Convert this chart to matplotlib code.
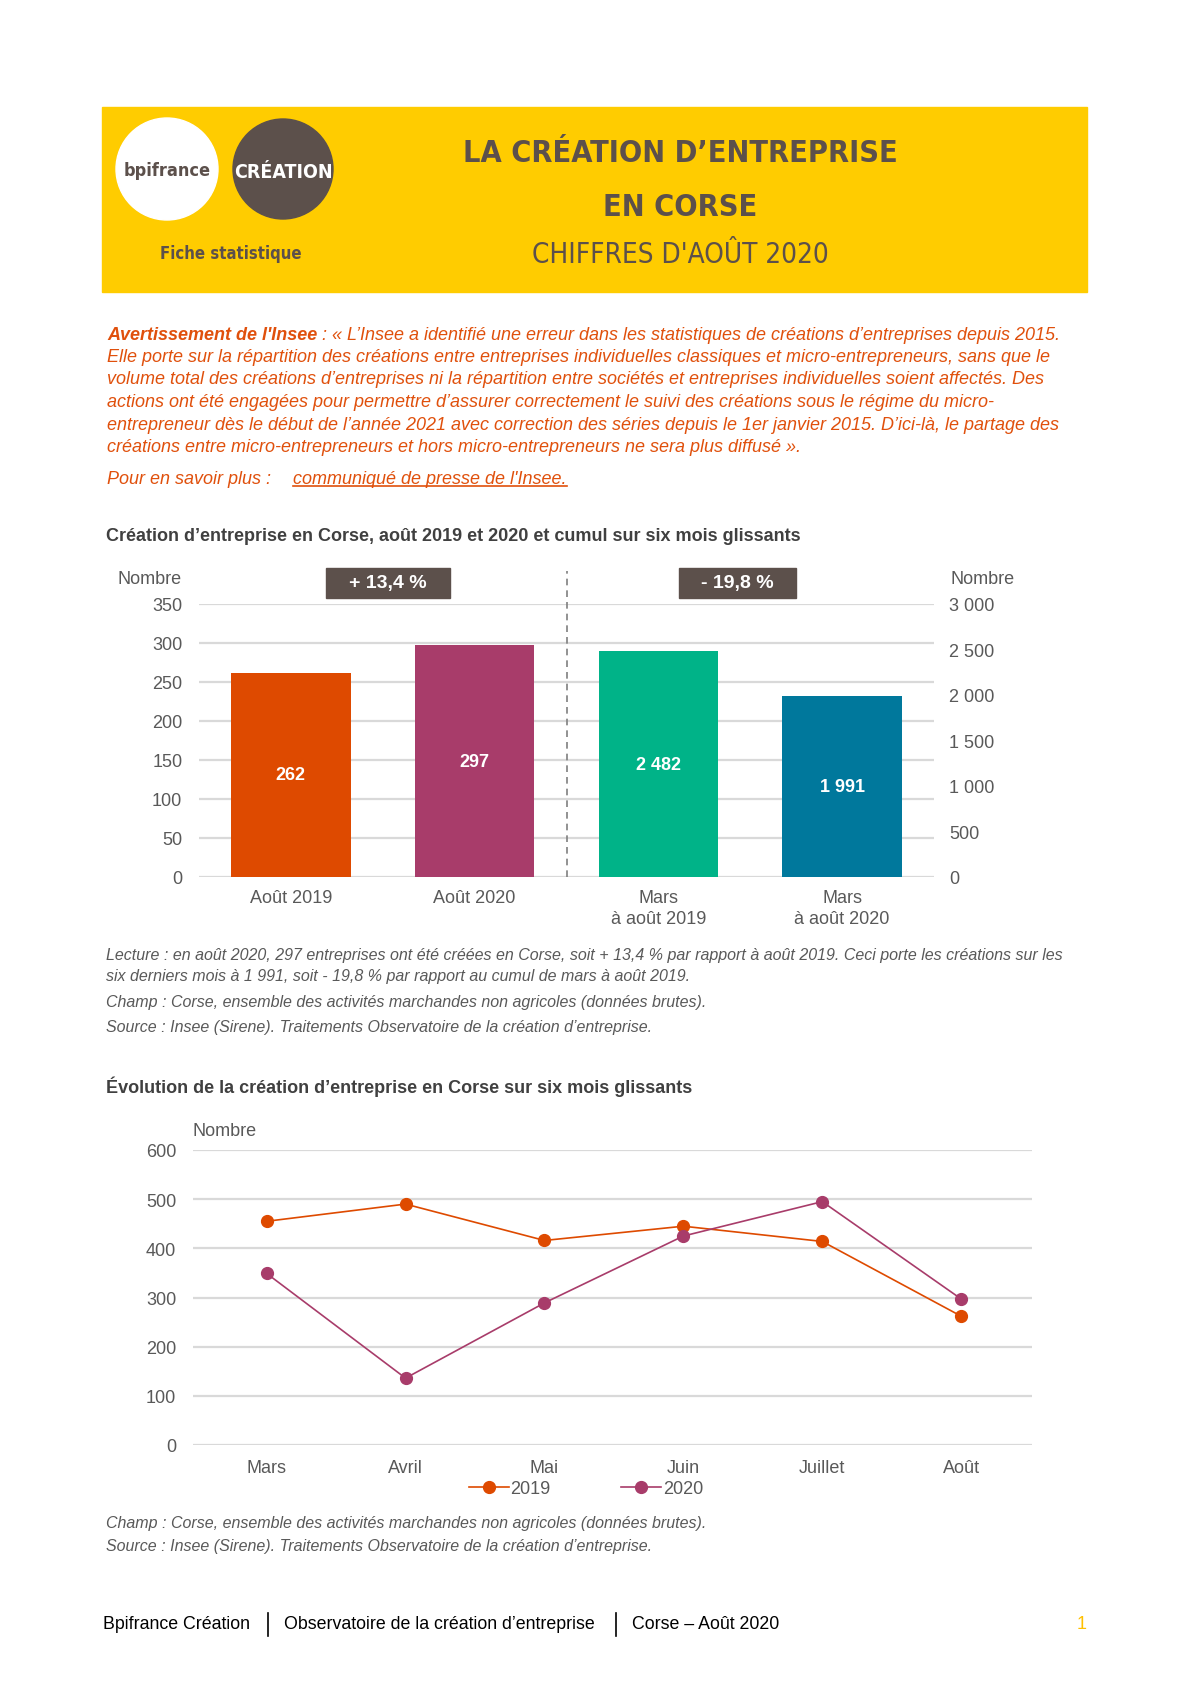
import numpy as np
import matplotlib
matplotlib.use('Agg')
from matplotlib import pyplot as plt
from matplotlib import font_manager
from matplotlib.patches import Rectangle, Circle
from matplotlib.transforms import blended_transform_factory

W, H = 1190, 1683

# données du graphique en barres
bar_labels = ['Août 2019', 'Août 2020', 'Mars\nà août 2019', 'Mars\nà août 2020']
bar_month = [262, 297]
bar_cumul = [2482, 1991]
bar_colors = ['#DE4A00', '#A83C6A', '#00B388', '#00789C']
evol_labels = ['+ 13,4 %', '- 19,8 %']
left_ticks = np.arange(0, 351, 50)
right_ticks = np.arange(0, 3001, 500)

# données de l'évolution sur six mois glissants
months = ['Mars', 'Avril', 'Mai', 'Juin', 'Juillet', 'Août']
crea_2019 = [455, 490, 416, 445, 414, 262]
crea_2020 = [349, 136, 289, 425, 495, 297]
line_ticks = np.arange(0, 601, 100)

warning_lines = [
    "Elle porte sur la répartition des créations entre entreprises individuelles classiques et micro-entrepreneurs, sans que le",
    "volume total des créations d’entreprises ni la répartition entre sociétés et entreprises individuelles soient affectés. Des",
    "actions ont été engagées pour permettre d’assurer correctement le suivi des créations sous le régime du micro-",
    "entrepreneur dès le début de l’année 2021 avec correction des séries depuis le 1er janvier 2015. D’ici-là, le partage des",
    "créations entre micro-entrepreneurs et hors micro-entrepreneurs ne sera plus diffusé ».",
]
bar_notes = [
    "Lecture : en août 2020, 297 entreprises ont été créées en Corse, soit + 13,4 % par rapport à août 2019. Ceci porte les créations sur les",
    "six derniers mois à 1 991, soit - 19,8 % par rapport au cumul de mars à août 2019.",
    "Champ : Corse, ensemble des activités marchandes non agricoles (données brutes).",
    "Source : Insee (Sirene). Traitements Observatoire de la création d’entreprise.",
]
line_notes = bar_notes[2:]

ORANGE = '#E0500C'
BROWN = '#5C504B'
GREY = '#595959'
GRID = '#D9D9D9'

plt.rcParams['font.family'] = ['Liberation Sans', 'DejaVu Sans']

# police étroite pour l'en-tête si disponible
cond = [f for f in font_manager.fontManager.ttflist
        if f.name == 'DejaVu Sans' and f.stretch in ('condensed', 'semi-condensed', 600, 700)]
HAS_COND = len(cond) > 0
NARROW = dict(family='DejaVu Sans', stretch='condensed') if HAS_COND else dict(family='Liberation Sans')
k = 1.0 if HAS_COND else 0.86


def fmt(v):
    return f"{v:,}".replace(',', ' ')


def frac(x0, y0, x1, y1):
    return [x0 / W, 1 - y1 / H, (x1 - x0) / W, (y1 - y0) / H]


fig = plt.figure(figsize=(W / 100, H / 100), dpi=100)
bg = fig.add_axes([0, 0, 1, 1], zorder=0)
bg.set_xlim(0, W)
bg.set_ylim(H, 0)
bg.axis('off')

# en-tête
bg.add_patch(Rectangle((102, 108), 985, 185, color='#FFCC00'))
bg.add_patch(Circle((167, 170), 51, color='white'))
bg.add_patch(Circle((283, 170), 50, color=BROWN))
bg.text(167, 171, 'bpifrance', ha='center', va='center', fontsize=13 * k,
        weight='bold', color=BROWN, **NARROW)
bg.text(283, 173, 'CRÉATION', ha='center', va='center', fontsize=14 * k,
        weight='bold', color='white', **NARROW)
bg.text(231, 254, 'Fiche statistique', ha='center', va='center', fontsize=12 * k,
        weight='bold', color=BROWN, **NARROW)
bg.text(680, 153, 'LA CRÉATION D’ENTREPRISE', ha='center', va='center',
        fontsize=22 * k, weight='bold', color=BROWN, **NARROW)
bg.text(680, 207, 'EN CORSE', ha='center', va='center',
        fontsize=22 * k, weight='bold', color=BROWN, **NARROW)
bg.text(680, 255, "CHIFFRES D'AOÛT 2020", ha='center', va='center',
        fontsize=20 * k, color=BROWN, **NARROW)

# avertissement
t1 = bg.text(107, 335, "Avertissement de l'Insee", ha='left', va='center',
             fontsize=13, style='italic', weight='bold', color=ORANGE)
bg.annotate(" : « L’Insee a identifié une erreur dans les statistiques de créations d’entreprises depuis 2015.",
            xy=(1, 0), xycoords=t1, ha='left', va='bottom',
            fontsize=13, style='italic', color=ORANGE)
for i, line in enumerate(warning_lines):
    bg.text(107, 357.5 + i * 22.5, line, ha='left', va='center', fontsize=13,
            style='italic', color=ORANGE)
bg.text(107, 479, 'Pour en savoir plus :', ha='left', va='center', fontsize=13,
        style='italic', color=ORANGE)
link = bg.text(293, 479, "communiqué de presse de l'Insee.", ha='left', va='center',
               fontsize=13, style='italic', color=ORANGE)

# graphique 1
bg.text(106, 537, 'Création d’entreprise en Corse, août 2019 et 2020 et cumul sur six mois glissants',
        ha='left', va='center', fontsize=13, weight='bold', color='#404040')
bg.text(150, 580, 'Nombre', ha='center', va='center', fontsize=13, color=GREY)
bg.text(983, 580, 'Nombre', ha='center', va='center', fontsize=13, color=GREY)

ax = fig.add_axes(frac(199, 605, 934, 878), zorder=1)
x = np.arange(len(bar_labels))
ax.bar(x[:2], bar_month, width=0.65, color=bar_colors[:2], zorder=3)
ax.set_xlim(-0.5, 3.5)
ax.set_ylim(0, 350)
ax.set_yticks(left_ticks)
ax.yaxis.grid(True, color=GRID, lw=1.6)
ax.set_axisbelow(True)
ax.set_xticks(x)
ax.set_xticklabels(bar_labels, linespacing=1.25)
ax.tick_params(axis='y', length=0, pad=12, labelsize=13, labelcolor=GREY)
ax.tick_params(axis='x', length=0, pad=9, labelsize=13, labelcolor=GREY)
for s in ax.spines.values():
    s.set_visible(False)
for xi, v in zip(x[:2], bar_month):
    ax.text(xi, v / 2, fmt(v), ha='center', va='center', color='white',
            fontsize=13, weight='bold', zorder=4)
ax.axvline(1.5, ymin=0, ymax=1.12, ls=(0, (4, 3)), color='#7F7F7F', lw=1.2, clip_on=False)

trans = blended_transform_factory(ax.transData, ax.transAxes)
for cx, bw, lab in zip([0.53, 2.43], [0.674, 0.64], evol_labels):
    ax.add_patch(Rectangle((cx - bw / 2, 1.022), bw, 0.11, transform=trans,
                           color=BROWN, clip_on=False))
    ax.text(cx, 1.077, lab, transform=trans, ha='center', va='center',
            color='white', fontsize=14, weight='bold')

ax2 = ax.twinx()
ax2.bar(x[2:], bar_cumul, width=0.65, color=bar_colors[2:], zorder=3)
ax2.set_ylim(0, 3000)
ax2.set_yticks(right_ticks)
ax2.set_yticklabels([fmt(v) for v in right_ticks])
ax2.tick_params(axis='y', length=0, pad=11, labelsize=13, labelcolor=GREY)
for s in ax2.spines.values():
    s.set_visible(False)
for xi, v in zip(x[2:], bar_cumul):
    ax2.text(xi, v / 2, fmt(v), ha='center', va='center', color='white',
             fontsize=13, weight='bold', zorder=4)

for i, line in enumerate(bar_notes):
    yy = [956, 977, 1003, 1028][i]
    bg.text(106, yy, line, ha='left', va='center', fontsize=11.5,
            style='italic', color=GREY)

# graphique 2
bg.text(106, 1087, 'Évolution de la création d’entreprise en Corse sur six mois glissants',
        ha='left', va='center', fontsize=13, weight='bold', color='#404040')
bg.text(225, 1132, 'Nombre', ha='center', va='center', fontsize=13, color=GREY)

ax3 = fig.add_axes(frac(193, 1151, 1032, 1446), zorder=1)
xm = np.arange(len(months))
ax3.plot(xm, crea_2019, color='#DE4A00', marker='o', ms=8.5, lw=1.2, label='2019', clip_on=False)
ax3.plot(xm, crea_2020, color='#A83C6A', marker='o', ms=8.5, lw=1.2, label='2020', clip_on=False)
ax3.set_xlim(-0.53, 5.51)
ax3.set_ylim(0, 600)
ax3.set_yticks(line_ticks)
ax3.yaxis.grid(True, color=GRID, lw=1.6)
ax3.set_axisbelow(True)
ax3.set_xticks(xm)
ax3.set_xticklabels(months)
ax3.tick_params(axis='y', length=0, pad=12, labelsize=13, labelcolor=GREY)
ax3.tick_params(axis='x', length=0, pad=10, labelsize=13, labelcolor=GREY)
for s in ax3.spines.values():
    s.set_visible(False)
ax3.legend(loc='center', bbox_to_anchor=(586 / W, 1 - 1490 / H), bbox_transform=fig.transFigure,
           ncol=2, frameon=False, fontsize=13, handlelength=2.2, handletextpad=0.1,
           columnspacing=3.9, labelcolor=GREY)

for i, line in enumerate(line_notes):
    bg.text(106, 1524 + i * 23, line, ha='left', va='center', fontsize=11.5,
            style='italic', color=GREY)

# pied de page
bg.text(103, 1625, 'Bpifrance Création', ha='left', va='center', fontsize=12.8, color='black')
bg.text(284, 1625, 'Observatoire de la création d’entreprise', ha='left', va='center',
        fontsize=12.8, color='black')
bg.text(632, 1625, 'Corse – Août 2020', ha='left', va='center', fontsize=12.8, color='black')
for xs in [268, 616]:
    bg.plot([xs, xs], [1614, 1637], color='black', lw=1.2)
bg.text(1082, 1625, '1', ha='center', va='center', fontsize=13, color='#FFC000')

# soulignement du lien
fig.canvas.draw()
bb = link.get_window_extent().transformed(bg.transData.inverted())
bg.plot([bb.x0, bb.x1], [bb.y0 - 1, bb.y0 - 1], color=ORANGE, lw=1.2)

fig.savefig('out.png', dpi=100)
